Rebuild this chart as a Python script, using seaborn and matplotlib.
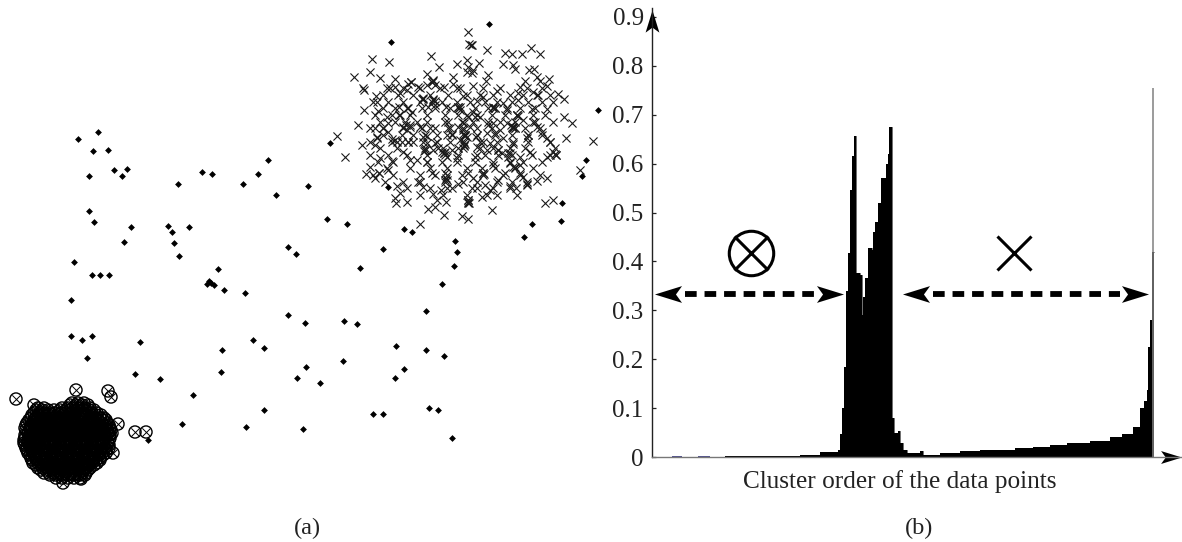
import numpy as np
import pandas as pd
import matplotlib
matplotlib.use("Agg")
import matplotlib.pyplot as plt
from matplotlib.path import Path
import seaborn as sns

# ---- panel (a): positions ----
diamond_pts = [(489,24),(391,42),(598,110),(330,143),(586,160),(582,176),(388,187),(562,203),(561,221),(532,224),(524,237),(327,219),(347,224),(404,229),(412,232),(455,241),
(78,139),(98,132),(93,151),(108,150),(114,170),(127,169),(122,176),(89,176),(178,184),(202,172),(212,174),(243,184),(258,174),(268,160),(276,195),(308,186),
(89,211),(94,222),(131,227),(124,242),(168,226),(172,232),(174,243),(189,227),(179,256),
(74,262),(92,275),(100,275),(109,275),(71,300),(218,269),(224,290),(209,281),(211,283),(214,285),(207,284),(245,293),(288,247),(296,254),(360,268),(383,249),(457,252),(454,266),(442,284),(426,311),
(71,336),(82,340),(92,336),(87,358),(140,342),(135,374),(160,379),(193,395),(222,350),(221,372),(253,340),(264,348),(288,315),(305,323),(306,367),(297,378),(320,383),(344,321),(357,324),(343,361),(396,346),(426,350),(444,356),(404,369),(395,378),
(264,410),(246,427),(182,424),(148,440),(303,429),(373,414),(383,414),(429,408),(438,410),(452,438)]

# cross cluster, in units of one third of a pixel from (320, 10)
cross_pts = [(445,67),(452,105),(448,103),(456,106),(502,120),(632,113),(660,133),(555,130),(575,133),(605,133),(156,148),(208,157),(334,138),(440,150),(410,162),(478,158),(358,172),(550,162),(580,165),(585,178),(103,201),(151,186),(180,205),(224,207),(322,192),(335,215),(340,210),(272,215),(265,222),(445,172),(460,180),(440,185),(455,190),(503,195),(497,213),(400,202),(628,180),(642,178),(650,200),(615,212),(660,212),(688,208),(680,228),(128,235),(133,240),(200,233),(226,230),(240,248),(260,240),(295,232),(320,225),(345,225),(372,232),(400,222),(410,235),(458,227),(530,244),(600,230),(595,248),(640,245),(655,255),(713,253),(732,268),
(168,258),(172,275),(133,301),(175,302),(238,292),(265,295),(275,305),(310,268),(340,270),(345,285),(325,290),(378,292),(415,292),(430,258),(470,272),(490,262),(520,295),(550,280),(595,270),(635,298),(680,296),(237,315),(200,320),(258,345),(270,352),(205,340),(113,345),(733,320),(757,340),
(165,355),(170,382),(190,355),(205,365),(300,350),(330,355),(385,335),(390,355),(380,375),(395,372),(432,340),(445,320),(460,305),(465,320),(480,320),(505,345),(525,370),(520,340),(590,315),(575,350),(585,355),(560,340),(640,335),(650,350),(665,365),(625,375),(620,385),(50,378),(127,406),(165,405),(170,385),(215,388),(230,395),(245,395),(265,395),(280,395),(310,380),(320,378),(435,375),(430,360),(440,380),(432,408),(468,380),(490,395),(510,400),(535,420),(550,385),(580,402),(680,385),(690,395),(737,383),(818,393),
(75,440),(180,445),(215,452),(250,425),(270,450),(315,420),(320,455),(355,415),(372,430),(380,440),(410,445),(465,440),(495,435),(520,465),(570,430),(600,440),(630,425),(680,440),(708,435),(700,425),(780,480),
(150,470),(137,493),(165,503),(178,490),(205,480),(335,488),(375,490),(380,510),(445,490),(488,490),(460,505),(535,510),(555,490),(580,470),(600,490),(610,500),(620,522),(650,513),(680,503),
(232,527),(295,517),(310,530),(415,522),(395,535),(340,552),(362,540),(455,535),(495,525),(510,540),(530,555),(570,528),(588,535),
(240,550),(225,565),(228,578),(262,575),(350,570),(378,575),(445,570),(445,580),(487,562),(675,580),(698,570),(323,597),(345,590),(372,614),(427,618),(445,628),(516,599),(300,641),
(250,350),(262,360),(270,345),(225,390),(320,400),(340,420),(365,425),(420,390),(470,410),(500,420),(545,430),(565,440),(540,360),(500,370),(420,300),(450,350),(415,350),(560,300),(610,330),(345,400),(395,420),(290,450),(415,415),(600,465),(570,460),
(432,375),(436,378),(428,372),(432,405),(435,402),(316,420),(312,424),(372,430),(376,425),(580,350),(584,354),(574,346),(590,315),(594,318),(525,295),(520,290),(335,215),(338,212),(340,268),(344,272),(305,268),(310,265),(415,290),(420,292),(272,215),(445,570),(447,580),(443,575),(488,490),(492,493),(620,525),(178,490),(375,510),(378,505),(585,470),(708,435),(705,432),(565,430),(535,420)]
cross_rows = {
 235:[210,250,300,360,420,490,540,620,665],
 255:[190,235,280,330,385,440,480,520,570,610,650,690],
 275:[160,205,250,300,335,365,410,450,495,530,575,625,665,700],
 295:[190,225,262,305,345,390,418,465,505,525,560,600,645],
 315:[165,215,240,270,320,375,415,440,470,515,555,590,640,675],
 335:[180,225,255,290,320,375,425,460,505,540,585,645,700],
 355:[150,190,250,305,345,385,430,470,515,580,615,660],
 375:[190,245,280,315,350,395,435,470,525,575,625,665],
 395:[150,215,265,310,350,390,432,480,530,580,625,690],
 415:[180,230,315,370,430,480,520,570,615,705],
 435:[150,205,260,320,375,415,470,535,575,635,690],
 455:[175,220,320,365,410,465,520,570,610,665],
 475:[200,270,330,380,440,485,525,585,640],
 495:[160,220,300,345,380,425,490,550,600,660],
 515:[195,250,300,375,430,470,530,575,620],
 535:[260,330,380,470,520,570],
 555:[300,370,440,500,590],
}

circle_outliers = [(16,399),(76,390),(108,391),(111,397),(135,432),(146,432),(118,424),(113,453),(63,483),(81,479),(34,405)]
circle_rows = {
 403:[72,78,84],
 405:[70,76,82,88],
 408:[38,44,62,68,73,79,85,90],
 410:[36,42,48,54,60,66,71,77,83,89,94],
 413:[34,40,45,50,55,61,66,71,76,82,87,92,97],
 415:[32,38,43,48,53,59,64,69,75,80,85,91,96,101],
 418:[31,36,42,47,52,58,63,68,74,79,84,90,95,100,104],
 420:[29,34,40,45,50,56,61,66,72,77,82,88,93,98,103,106],
 423:[27,33,38,43,49,54,59,65,70,75,81,86,91,97,102,107],
 425:[26,31,36,41,47,52,57,63,68,73,79,84,89,95,100,105,109],
 428:[25,30,36,41,46,52,57,62,68,73,78,84,89,94,100,105,110],
 430:[26,32,38,43,48,54,59,64,70,75,80,86,91,96,102,107,111],
 433:[28,33,38,44,49,54,60,65,70,76,81,86,92,97,102,108,112],
 435:[25,30,36,41,46,52,57,62,68,73,78,84,89,94,100,105,110],
 438:[25,30,36,41,46,52,57,62,68,73,78,84,89,94,100,105,110],
 440:[24,28,34,39,44,50,55,60,66,71,76,82,87,92,98,103,109],
 443:[24,28,33,38,44,49,54,60,65,70,76,81,86,92,97,102,108],
 445:[25,30,35,40,45,51,56,61,67,72,77,83,88,93,99,104,109],
 448:[26,31,36,41,46,52,57,62,68,73,78,84,89,94,100,105,109],
 450:[27,32,37,42,48,53,58,64,69,74,80,85,90,96,101,106],
 453:[28,33,38,44,49,54,60,65,70,76,81,86,92,97,102,106],
 455:[30,35,40,46,51,56,62,67,72,78,83,88,94,99,103],
 458:[31,36,41,46,52,57,62,68,73,78,84,89,94,100],
 460:[32,37,43,48,53,59,64,69,75,80,85,91,96,100],
 463:[33,38,44,49,54,60,65,70,76,81,86,92,97],
 465:[36,41,46,52,57,62,68,73,78,84,89,94],
 468:[38,43,48,54,59,65,70,75,81,86,90],
 470:[41,46,52,57,62,68,73,78,84,88],
 473:[44,49,54,60,65,71,76,82,86],
 475:[50,56,62,68,74,80,85],
 478:[56,62,68,74,80],
}

# ---- panel (b): reachability profile ----
order_pos = [652,725,760,800,820,838,840,842,844,846,848,850,852,853.5,855.7,860,861.7,863,865,867.7,871.7,872.7,875,878,881,885.7,887.7,889,892,894,898,900,903,907,920,923,940,960,980,1000,1015,1033,1050,1067,1090,1110,1122,1133,1140,1144,1147,1148,1150,1151.7,1153.5]
order_val = [0,0.002,0.003,0.005,0.011,0.014,0.048,0.10,0.185,0.34,0.417,0.545,0.615,0.656,0.376,0.372,0.29,0.327,0.366,0.427,0.423,0.46,0.48,0.52,0.57,0.60,0.62,0.675,0.08,0.05,0.053,0.028,0.014,0.008,0.012,0.005,0.008,0.012,0.014,0.014,0.018,0.021,0.024,0.028,0.033,0.04,0.047,0.062,0.10,0.115,0.137,0.225,0.28,0.42,0.42]
spike_pos = [1153]
spike_val = [0.755]
y_ticks = [0, 0.1, 0.2, 0.3, 0.4, 0.5, 0.6, 0.7, 0.8, 0.9]
y_tick_labels = ["0", "0.1", "0.2", "0.3", "0.4", "0.5", "0.6", "0.7", "0.8", "0.9"]
x_title = "Cluster order of the data points"
panel_labels = ["(a)", "(b)"]

sns.set_theme(style="white")
plt.rcParams["font.family"] = ["Liberation Serif", "DejaVu Serif"]
fig = plt.figure(figsize=(11.82, 5.42), dpi=100)
W, H = 1182, 542

# ---- panel (a)
ax = fig.add_axes([0, 0, 620 / W, 1])
ax.set_xlim(0, 620); ax.set_ylim(542, 0); ax.axis("off")

diamonds = pd.DataFrame(diamond_pts, columns=["x", "y"])
all_cross = cross_pts + [(x, y) for y, xs in cross_rows.items() for x in xs]
crosses = pd.DataFrame(all_cross, columns=["x", "y"])
crosses["x"] = crosses["x"] / 3 + 320
crosses["y"] = crosses["y"] / 3 + 10
circ = [(x, y) for y, xs in circle_rows.items() for x in xs] + circle_outliers
circles = pd.DataFrame(circ, columns=["x", "y"])

sns.scatterplot(data=crosses, x="x", y="y", marker="x", s=34, color="#1a1a1a", linewidth=0.8, ax=ax)
sns.scatterplot(data=circles, x="x", y="y", marker="o", s=76, facecolor="none", edgecolor="black", linewidth=1.0, ax=ax)
sns.scatterplot(data=circles, x="x", y="y", marker="x", s=36, color="black", linewidth=0.7, ax=ax)
sns.scatterplot(data=diamonds, x="x", y="y", marker="D", s=12, color="black", linewidth=0, ax=ax)
ax.set_xlabel(""); ax.set_ylabel("")
ax.set_xlim(0, 620); ax.set_ylim(542, 0)

# ---- panel (b)
bx = fig.add_axes([652 / W, (H - 457) / H, (W - 652) / W, (457 - 8) / H])
bx.set_xlim(652, 1182)
bx.set_ylim(0, 449 / 489)
bx.patch.set_alpha(0)
profile = pd.DataFrame({"pos": order_pos, "val": order_val})
sns.lineplot(data=profile, x="pos", y="val", drawstyle="steps-post", color="black", linewidth=0.4, ax=bx)
bx.fill_between(order_pos, 0, order_val, step="post", color="black", linewidth=0)
bx.vlines(spike_pos, 0, spike_val, color="#808080", linewidth=1.1)
bx.hlines([0.001, 0.001], [672, 698], [682, 710], color="#30307a", linewidth=1.2)

for s in ("top", "right"):
    bx.spines[s].set_visible(False)
for s in ("left", "bottom"):
    bx.spines[s].set_linewidth(1.0); bx.spines[s].set_color("#222222")
bx.spines["bottom"].set_color("#777777")
bx.set_xticks([])
bx.set_yticks(y_ticks)
bx.set_yticklabels(y_tick_labels, fontsize=18, color="#222222")
bx.tick_params(axis="y", direction="in", length=3, width=0.9, pad=6, left=True, color="#222222")
bx.set_xlabel(x_title, fontsize=18.2, color="#222222")
bx.xaxis.set_label_coords((900 - 652) / (W - 652), -25 / 449, transform=bx.transAxes)
bx.xaxis.label.set_verticalalignment("center")
bx.set_ylabel("")

head = Path([(1, 0), (-1, 0.62), (-0.55, 0), (-1, -0.62), (1, 0)], closed=True)
head_l = Path([(-1, 0), (1, 0.62), (0.55, 0), (1, -0.62), (-1, 0)], closed=True)
head_u = Path([(0, 1), (0.62, -1), (0, -0.55), (-0.62, -1), (0, 1)], closed=True)

def p2v(px):
    return (457 - px) / 489

# axis arrow heads
bx.plot([1171], [0], marker=head, ms=15, mew=0, color="black", clip_on=False, ls="none")
bx.plot([652], [p2v(21)], marker=head_u, ms=16, mew=0, color="black", clip_on=False, ls="none")

# span arrows
y_arrow = p2v(294)
for x0, x1 in ((680, 818), (928, 1122)):
    bx.plot([x0 + 5, x1 - 2], [y_arrow, y_arrow], color="black", lw=4.2, ls=(0, (2.0, 1.35)), solid_capstyle="butt", dash_capstyle="butt")
bx.plot([668], [y_arrow], marker=head_l, ms=19.5, mew=0, color="black", ls="none")
bx.plot([830], [y_arrow], marker=head, ms=19.5, mew=0, color="black", ls="none")
bx.plot([916], [y_arrow], marker=head_l, ms=19.5, mew=0, color="black", ls="none")
bx.plot([1135], [y_arrow], marker=head, ms=19.5, mew=0, color="black", ls="none")

# cluster symbols
yc = p2v(253)
bx.plot([751], [yc], marker="o", ms=32, mfc="none", mec="black", mew=2.2, ls="none")
bx.plot([751], [yc], marker="x", ms=24, mec="black", mew=2.2, ls="none")
bx.plot([1014], [yc], marker="x", ms=24, mec="black", mew=2.2, ls="none")

fig.text(307 / W, 1 - 528 / H, panel_labels[0], ha="center", va="center", fontsize=17.5, color="#222222")
fig.text(919 / W, 1 - 528 / H, panel_labels[1], ha="center", va="center", fontsize=17.5, color="#222222")

fig.savefig("out.png", dpi=100)
